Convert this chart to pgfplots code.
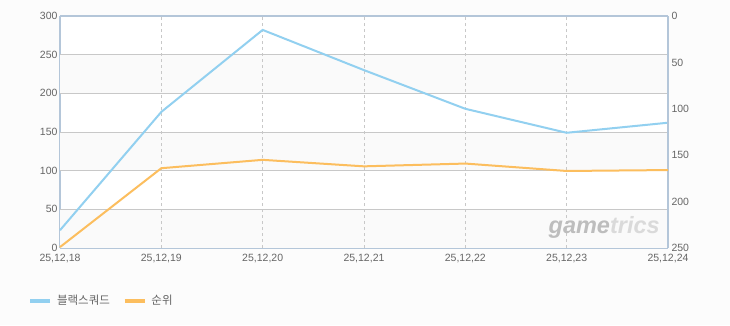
\documentclass[border=0pt]{standalone}
\usepackage{pgfplots}
\pgfplotsset{compat=1.18}
\usepackage{fontspec}
\setmainfont{Liberation Sans}
\newfontfamily\kr{Noto Sans CJK KR}
\definecolor{bg}{HTML}{FCFCFC}
\definecolor{band}{HTML}{FAFAFA}
\definecolor{frame}{HTML}{B4C6D9}
\definecolor{gridc}{HTML}{C8C8C8}
\definecolor{txt}{HTML}{666666}
\definecolor{blueline}{HTML}{92D0F0}
\definecolor{orangeline}{HTML}{FCBE5E}
\begin{document}
\begin{tikzpicture}[x=1pt,y=1pt]
\useasboundingbox (0,0) rectangle (730,325);
\fill[bg] (0,0) rectangle (730,325);
\begin{axis}[
  at={(60pt,77pt)}, anchor=south west,
  width=608pt, height=232pt, scale only axis,
  xmin=0, xmax=6, ymin=0, ymax=300,
  xtick={0,...,6},
  xticklabels={{25,12,18},{25,12,19},{25,12,20},{25,12,21},{25,12,22},{25,12,23},{25,12,24}},
  ytick={0,50,...,300},
  axis y line*=left,
  axis x line*=bottom,
  tick style={draw=none},
  axis line style={frame, line width=1.8pt},
  ticklabel style={font=\fontsize{10.5}{12}\selectfont, text=txt},
  /pgf/number format/assume math mode=true,
  yticklabel style={xshift=1pt},
  xticklabel style={yshift=-3pt},
  axis background/.style={fill=white},
  clip=false,
  legend style={at={(-0.057,-0.228)}, anchor=west, draw=none, fill=none,
    font=\kr\fontsize{11.5}{12}\selectfont, text=txt,
    /tikz/every odd column/.append style={column sep=3pt},
    /tikz/every even column/.append style={column sep=11pt}},
  legend columns=2,
  legend image code/.code={\draw[#1, line width=3.5pt] (0pt,0pt) -- (20pt,0pt);},
]
\fill[band] (axis cs:0,0) rectangle (axis cs:6,50);
\fill[band] (axis cs:0,100) rectangle (axis cs:6,150);
\fill[band] (axis cs:0,200) rectangle (axis cs:6,250);
\foreach \yy in {50,100,150,200,250} {
  \edef\tmp{\noexpand\draw[gridc, line width=0.8pt] (axis cs:0,\yy) -- (axis cs:6,\yy);}\tmp
}
\foreach \xx in {1,2,3,4,5} {
  \edef\tmp{\noexpand\draw[gridc, dashed, line width=0.6pt] (axis cs:\xx,0) -- (axis cs:\xx,300);}\tmp
}
\addlegendimage{blueline}
\addlegendentry{블랙스쿼드}
\addlegendimage{orangeline}
\addlegendentry{순위}
\addplot[blueline, line width=2pt] coordinates {
  (0,23) (1,176) (2,282) (3,230) (4,180) (5,149) (6,162)
};
\node[font=\bfseries\itshape\fontsize{23.5}{25}\selectfont, anchor=east, inner sep=0pt] at (axis cs:5.92,26) {\textcolor[HTML]{BDBDBD}{game}\textcolor[HTML]{DADADA}{trics}};
\draw[frame, line width=1.8pt] (rel axis cs:0,1) -- (rel axis cs:1,1);
\end{axis}
\begin{axis}[
  at={(60pt,77pt)}, anchor=south west,
  width=608pt, height=232pt, scale only axis,
  xmin=0, xmax=6, ymin=0, ymax=250,
  y dir=reverse,
  axis y line*=right,
  axis x line=none,
  ytick={0,50,...,250},
  tick style={draw=none},
  axis line style={frame, line width=1.8pt},
  ticklabel style={font=\fontsize{10.5}{12}\selectfont, text=txt},
  /pgf/number format/assume math mode=true,
  yticklabel style={xshift=0pt},
  clip=false,
]
\addplot[orangeline, line width=2pt] coordinates {
  (0,249) (1,164) (2,155) (3,162) (4,159) (5,167) (6,166)
};
\end{axis}
\end{tikzpicture}
\end{document}
